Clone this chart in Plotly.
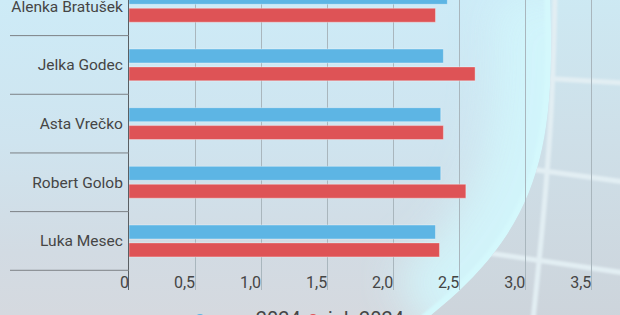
import base64
import plotly.graph_objects as go

# ---- data ----
categories = ["Alenka Bratušek", "Jelka Godec", "Asta Vrečko", "Robert Golob", "Luka Mesec"]
avg_2024 = [2.41, 2.38, 2.36, 2.36, 2.32]
jul_2024 = [2.32, 2.62, 2.38, 2.55, 2.35]
series_names = ["avg. 2024", "jul. 2024"]
tick_vals = [0, 0.5, 1.0, 1.5, 2.0, 2.5, 3.0, 3.5]
tick_text = ["0", "0,5", "1,0", "1,5", "2,0", "2,5", "3,0", "3,5"]

BLUE = "#5DB5E4"
RED = "#DE5356"
W, H = 620, 315

# ---- decorative background (svg data uri) ----
EDGE = "M 550,-5 C 556,150 540,230 425,320"
svg = f"""<svg xmlns='http://www.w3.org/2000/svg' width='{W}' height='{H}' viewBox='0 0 {W} {H}' preserveAspectRatio='none'>
<defs>
 <linearGradient id='bg' x1='0' y1='0' x2='0' y2='1'>
  <stop offset='0' stop-color='#CDEBF7'/>
  <stop offset='0.45' stop-color='#CFE4EF'/>
  <stop offset='0.8' stop-color='#D2DBE3'/>
  <stop offset='1' stop-color='#D5D9DF'/>
 </linearGradient>
 <linearGradient id='outer' x1='0' y1='0' x2='0' y2='1'>
  <stop offset='0' stop-color='#CDE9F3'/>
  <stop offset='0.45' stop-color='#CEDFE8'/>
  <stop offset='1' stop-color='#CDD4DB'/>
 </linearGradient>
 <clipPath id='ic'><path d='M -5,-5 L 550,-5 C 556,150 540,230 425,320 L -5,320 Z'/></clipPath>
 <clipPath id='oc'><path d='{EDGE} L 625,320 L 625,-5 Z'/></clipPath>
 <filter id='bl'><feGaussianBlur stdDeviation='1.3'/></filter>
 <filter id='gl' x='-50%' y='-50%' width='200%' height='200%'><feGaussianBlur stdDeviation='22'/></filter>
</defs>
<rect width='{W}' height='{H}' fill='url(#bg)'/>
<g clip-path='url(#ic)'>
 <path d='{EDGE}' stroke='#D1F6FC' stroke-width='110' fill='none' filter='url(#gl)' opacity='0.9'/>
 <path d='{EDGE}' stroke='#D4F8FC' stroke-width='12' fill='none' filter='url(#bl)'/>
</g>
<path d='{EDGE} L 625,320 L 625,-5 Z' fill='url(#outer)'/>
<g clip-path='url(#oc)' stroke='#E2EEF3' stroke-width='5' fill='none' filter='url(#bl)'>
 <path d='M 555,-5 C 553,100 550,160 533,320'/>
 <path d='M 540,78 L 625,83'/>
 <path d='M 500,165 L 625,182'/>
 <path d='M 440,246 L 625,273'/>
</g>
</svg>"""
svg_uri = "data:image/svg+xml;base64," + base64.b64encode(svg.encode("utf-8")).decode("ascii")

fig = go.Figure()

# red first so that blue sits on top within each group
fig.add_trace(go.Bar(
    y=categories, x=jul_2024, name=series_names[1], orientation="h",
    marker=dict(color=RED, line=dict(color="rgba(255,255,255,0.35)", width=1)),
    showlegend=False,
))
fig.add_trace(go.Bar(
    y=categories, x=avg_2024, name=series_names[0], orientation="h",
    marker=dict(color=BLUE, line=dict(color="rgba(255,255,255,0.35)", width=1)),
    showlegend=False,
))

# category boundary lines at the left
shapes = []
for i in range(len(categories)):
    shapes.append(dict(
        type="line", xref="paper", yref="y", x0=10 / W, x1=129 / W,
        y0=i - 0.5, y1=i - 0.5, line=dict(color="#7C8185", width=1), layer="above",
    ))

# legend (drawn below the plot, partly cut off like the reference)
annotations = []
legend_items = [(series_names[0], BLUE, 200, 211.5), (series_names[1], RED, 313, 325)]
for nm, col, dot_x, txt_x in legend_items:
    shapes.append(dict(
        type="circle", xref="paper", yref="paper",
        x0=(dot_x - 4) / W, x1=(dot_x + 4) / W,
        y0=(H - 322) / H, y1=(H - 314) / H,
        fillcolor=col, line=dict(width=0),
    ))
    annotations.append(dict(
        text=nm, xref="paper", yref="paper", x=txt_x / W, y=(H - 319) / H,
        xanchor="left", yanchor="middle", showarrow=False,
        font=dict(size=20, color="#464646", family="Roboto"),
    ))

x_left = 129 / W
px_per_unit = 132.1
x_max = (W - 129) / px_per_unit
bottom_px = 25

fig.update_layout(
    width=W, height=H,
    margin=dict(l=0, r=0, t=0, b=0, autoexpand=False),
    paper_bgcolor="rgba(0,0,0,0)",
    plot_bgcolor="rgba(0,0,0,0)",
    font=dict(family="Roboto", size=15.5, color="#454545"),
    barmode="group", bargap=0.39, bargroupgap=0.22,
    shapes=shapes,
    annotations=annotations,
    images=[dict(source=svg_uri, xref="paper", yref="paper", x=0, y=1,
                 sizex=1, sizey=1, sizing="stretch", layer="below",
                 xanchor="left", yanchor="top")],
    xaxis=dict(
        domain=[x_left, 1], range=[0, x_max],
        tickvals=tick_vals, ticktext=tick_text,
        showgrid=True, gridcolor="#A9B6BD", gridwidth=1,
        zeroline=False, showline=False,
        ticklabelposition="inside left", ticklabeloverflow="allow",
        ticklabelstandoff=-7,
        tickfont=dict(size=16, color="#454545"),
        fixedrange=True,
    ),
    yaxis=dict(
        domain=[bottom_px / H, 1], range=[-0.836, 4.107],
        type="category", categoryorder="array", categoryarray=categories[::-1],
        showgrid=False, zeroline=False,
        showline=True, linecolor="#5A5F63", linewidth=1,
        ticks="outside", ticklen=2, tickcolor="rgba(0,0,0,0)",
        tickfont=dict(size=15.5, color="#454545"),
        fixedrange=True,
    ),
    showlegend=False,
)

fig.write_html("out.html")
